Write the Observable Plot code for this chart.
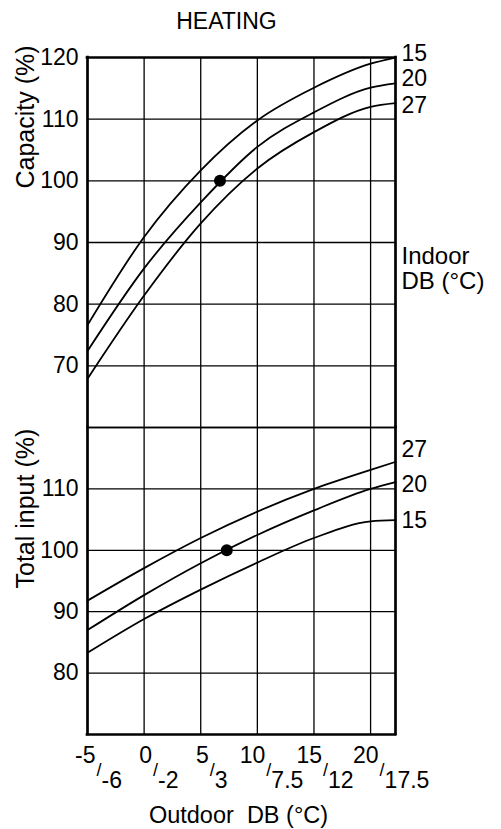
<!DOCTYPE html>
<html>
<head>
<meta charset="utf-8">
<script src="https://cdn.jsdelivr.net/npm/d3@7"></script>
<script src="https://cdn.jsdelivr.net/npm/@observablehq/plot@0.6"></script>
<style>
  html, body { margin: 0; padding: 0; background: #fff; }
  #chart { width: 501px; }
  #chart svg { display: block; overflow: visible; background: transparent; }
</style>
</head>
<body>
<div id="chart"></div>
<script>
// ---- data ----
const title = "HEATING";
const outdoorDB = [-5, 0, 5, 10, 15, 20, 22.2];
const indoorDB = [15, 20, 27];

const capacity15 = [76.6, 90.9, 101.7, 109.8, 115.1, 119.0, 120.0];
const capacity20 = [72.4, 85.8, 96.5, 105.5, 111.1, 115.1, 115.8];
const capacity27 = [67.9, 81.4, 93.1, 102.0, 107.9, 112.0, 112.6];

const input15 = [83.3, 88.8, 93.6, 98.0, 102.0, 104.7, 104.9];
const input20 = [87.0, 92.7, 97.9, 102.5, 106.5, 110.0, 111.1];
const input27 = [91.8, 97.1, 102.0, 106.3, 110.0, 113.1, 114.4];

const ratedCapacity = [{x: 6.7, y: 100}];
const ratedInput = [{x: 7.3, y: 100}];

const xTickValues = [-5, 0, 5, 10, 15, 20];
const xTickUpper = ["-5", "0", "5", "10", "15", "20"];
const xTickLower = ["-6", "-2", "3", "7.5", "12", "17.5"];
const capacityTicks = [70, 80, 90, 100, 110, 120];
const inputTicks = [80, 90, 100, 110];
const capacityGrid = [60, 70, 80, 90, 100, 110];
const inputGrid = [80, 90, 100, 110, 120];
const xGrid = [0, 5, 10, 15, 20];

const xDomain = [-5, 22.2];
const capacityDomain = [60, 120];
const inputDomain = [70, 120];

const capacityLabel = "Capacity (%)";
const inputLabel = "Total input (%)";
const xLabel = "Outdoor  DB (\u00B0C)";
const indoorLabel = "Indoor\nDB (\u00B0C)";

// ---- build tables ----
function rows(seriesByIndoor) {
  const out = [];
  indoorDB.forEach((t, k) => {
    seriesByIndoor[k].forEach((v, i) => out.push({x: outdoorDB[i], y: v, indoor: t}));
  });
  return out;
}
const capRows = rows([capacity15, capacity20, capacity27]);
const inRows = rows([input15, input20, input27]);

const font = "'Liberation Sans', Arial, Helvetica, sans-serif";
const common = {
  width: 501,
  marginLeft: 87,
  marginRight: 106,
  x: {domain: xDomain, axis: null},
  style: {fontFamily: font, background: "transparent", overflow: "visible", color: "black"}
};
const gridW = 1.3, borderW = 2.7, curveW = 1.8;

function endLabels(data, dyMap) {
  return indoorDB.map(t => Plot.text(data.filter(d => d.indoor === t && d.x === xDomain[1]), {
    y: "y", text: d => String(d.indoor), frameAnchor: "right", textAnchor: "start",
    lineAnchor: "middle", dx: 6, dy: dyMap[t], fontSize: 23
  }));
}

const upper = Plot.plot({
  ...common,
  height: 427,
  marginTop: 57,
  marginBottom: 0,
  y: {domain: capacityDomain, axis: null},
  marks: [
    Plot.ruleY(capacityGrid, {strokeWidth: gridW}),
    Plot.ruleX(xGrid, {strokeWidth: gridW}),
    Plot.line(capRows, {x: "x", y: "y", z: "indoor", curve: "monotone-x", strokeWidth: curveW}),
    Plot.dot(ratedCapacity, {x: "x", y: "y", r: 6, fill: "black"}),
    Plot.ruleY([capacityDomain[1]], {strokeWidth: borderW, strokeLinecap: "square"}),
    Plot.ruleX(xDomain, {strokeWidth: borderW, strokeLinecap: "square"}),
    Plot.text(capacityTicks, {y: d => d, text: d => String(d), frameAnchor: "left", textAnchor: "end", lineAnchor: "middle", dx: -9, fontSize: 23}),
    Plot.text([capacityLabel], {text: d => d, frameAnchor: "left", rotate: -90, lineAnchor: "bottom", dx: -53.5, dy: -54, fontSize: 25}),
    Plot.text([title], {text: d => d, frameAnchor: "top", lineAnchor: "bottom", dx: -15, dy: -28.7, fontSize: 23}),
    Plot.text([indoorLabel], {text: d => d, frameAnchor: "top-right", textAnchor: "start", lineAnchor: "bottom", lineHeight: 1.03, dx: 6, dy: 231, fontSize: 24}),
    ...endLabels(capRows, {15: -4, 20: -4.5, 27: 2})
  ]
});

const lower = Plot.plot({
  ...common,
  height: 402,
  marginTop: 0,
  marginBottom: 95,
  y: {domain: inputDomain, axis: null},
  marks: [
    Plot.ruleY(inputGrid, {strokeWidth: gridW}),
    Plot.ruleX(xGrid, {strokeWidth: gridW}),
    Plot.line(inRows, {x: "x", y: "y", z: "indoor", curve: "monotone-x", strokeWidth: curveW}),
    Plot.dot(ratedInput, {x: "x", y: "y", r: 6, fill: "black"}),
    Plot.ruleY([inputDomain[0]], {strokeWidth: borderW, strokeLinecap: "square"}),
    Plot.ruleX(xDomain, {strokeWidth: borderW, strokeLinecap: "square"}),
    Plot.text(inputTicks, {y: d => d, text: d => String(d), frameAnchor: "left", textAnchor: "end", lineAnchor: "middle", dx: -9, fontSize: 23}),
    Plot.text([inputLabel], {text: d => d, frameAnchor: "left", rotate: -90, lineAnchor: "bottom", dx: -53.5, dy: 7.5, fontSize: 25}),
    Plot.text(xTickValues, {x: d => d, text: (d, i) => xTickUpper[i], frameAnchor: "bottom", lineAnchor: "bottom", textAnchor: "end", dx: 8, dy: 28, fontSize: 23}),
    Plot.text(xTickValues, {x: d => d, text: () => "/", frameAnchor: "bottom", lineAnchor: "bottom", textAnchor: "start", dx: 9, dy: 41, fontSize: 18}),
    Plot.text(xTickValues, {x: d => d, text: (d, i) => xTickLower[i], frameAnchor: "bottom", lineAnchor: "bottom", textAnchor: "start", dx: 14, dy: 53, fontSize: 23}),
    Plot.text([xLabel], {text: d => d, frameAnchor: "bottom", lineAnchor: "bottom", dx: -3, dy: 88, fontSize: 23.5}),
    ...endLabels(inRows, {27: -12, 20: 2, 15: 0})
  ]
});

const root = document.getElementById("chart");
root.appendChild(upper);
root.appendChild(lower);
</script>
</body>
</html>
